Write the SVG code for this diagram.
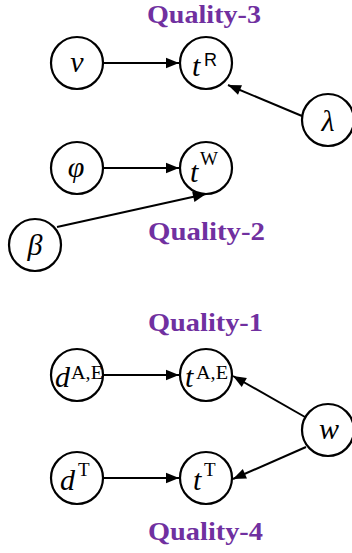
<svg xmlns="http://www.w3.org/2000/svg" width="352" height="553" viewBox="0 0 352 553">
<style>
.n{fill:#fff;stroke:#000;stroke-width:2.2}
.e{stroke:#000;stroke-width:2;fill:none;marker-end:url(#ah)}
.m{font-family:"Liberation Serif","Times New Roman",serif;font-style:italic;font-size:30px;fill:#000}
.s{font-family:"Liberation Serif","Times New Roman",serif;font-size:19px;fill:#000;font-style:normal}
.ss{font-family:"Liberation Sans",Arial,sans-serif;font-size:18px;fill:#000;font-style:normal}
.q{font-family:"Liberation Serif","Times New Roman",serif;font-weight:bold;font-size:26px;fill:#7030a0}
</style>
<defs>
<marker id="ah" viewBox="0 0 10 10" refX="10" refY="5" markerWidth="7.5" markerHeight="6.5" orient="auto" markerUnits="strokeWidth"><path d="M0,1 L10,5 L0,9 z" fill="#000"/></marker>
</defs>
<g id="titles">
<text class="q" x="147" y="23" textLength="114" lengthAdjust="spacingAndGlyphs">Quality-3</text>
<text class="q" x="148" y="240" textLength="117" lengthAdjust="spacingAndGlyphs">Quality-2</text>
<text class="q" x="148" y="331" textLength="115" lengthAdjust="spacingAndGlyphs">Quality-1</text>
<text class="q" x="148" y="540" textLength="115" lengthAdjust="spacingAndGlyphs">Quality-4</text>
</g>
<g id="connectors">
<line class="e" x1="103" y1="63" x2="179" y2="63"/>
<line class="e" x1="302" y1="116" x2="228" y2="85"/>
<line class="e" x1="103" y1="168" x2="179" y2="168"/>
<line class="e" x1="57" y1="227" x2="206" y2="194"/>
<line class="e" x1="104" y1="375" x2="179" y2="375"/>
<line class="e" x1="305" y1="417" x2="233" y2="376"/>
<line class="e" x1="104" y1="478" x2="179" y2="478"/>
<line class="e" x1="306" y1="447" x2="233" y2="479"/>
</g>
<g id="v"><circle class="n" cx="77" cy="63" r="26"/><text class="m" x="77" y="72" text-anchor="middle">v</text></g>
<g id="tR"><circle class="n" cx="206" cy="63" r="26"/><text class="m" x="192" y="76">t</text><text class="ss" x="204" y="66">R</text></g>
<g id="lambda"><circle class="n" cx="328" cy="120" r="26"/><text class="m" x="328" y="131" text-anchor="middle">λ</text></g>
<g id="phi"><circle class="n" cx="77" cy="168" r="26"/><text class="m" x="76" y="177" text-anchor="middle">φ</text></g>
<g id="tW"><circle class="n" cx="206" cy="168" r="26"/><text class="m" x="190" y="182">t</text><text class="s" x="200" y="165">W</text></g>
<g id="beta"><circle class="n" cx="35" cy="245" r="26"/><text class="m" x="35" y="255" text-anchor="middle">β</text></g>
<g id="dAE"><circle class="n" cx="77" cy="375" r="26"/><text class="m" x="55" y="387">d</text><text class="s" x="71" y="379" textLength="32" lengthAdjust="spacingAndGlyphs">A,E</text></g>
<g id="tAE"><circle class="n" cx="206" cy="375" r="26"/><text class="m" x="185" y="387">t</text><text class="s" x="196" y="379" textLength="32" lengthAdjust="spacingAndGlyphs">A,E</text></g>
<g id="w"><circle class="n" cx="328" cy="430" r="26"/><text class="m" x="329" y="439" text-anchor="middle">w</text></g>
<g id="dT"><circle class="n" cx="77" cy="478" r="26"/><text class="m" x="60" y="490">d</text><text class="s" x="78" y="476">T</text></g>
<g id="tT"><circle class="n" cx="206" cy="478" r="26"/><text class="m" x="193" y="490">t</text><text class="s" x="204" y="476">T</text></g>
</svg>
